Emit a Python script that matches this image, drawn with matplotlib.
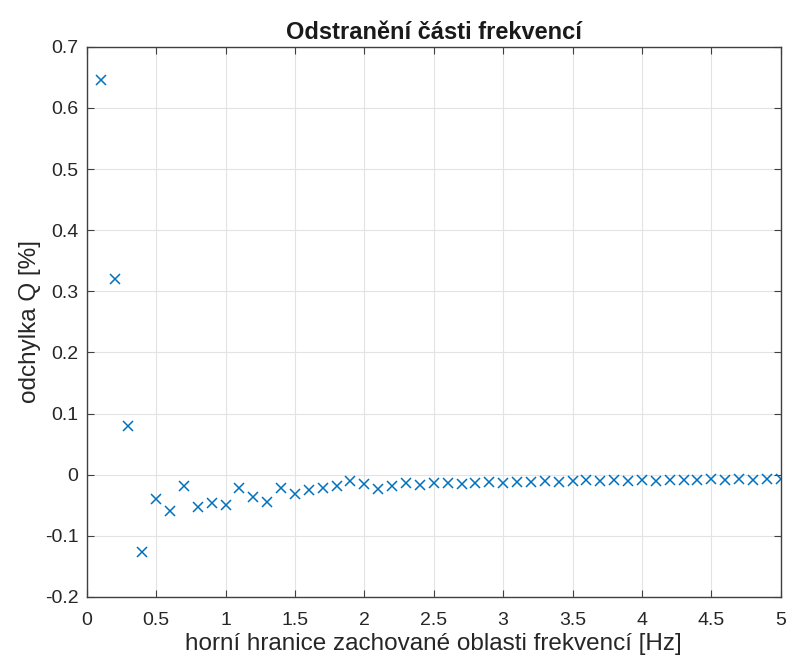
import matplotlib.pyplot as plt

plt.rcParams['font.family'] = ['Liberation Sans', 'DejaVu Sans']

# upper bound of the retained frequency band [Hz]
freq = [0.1, 0.2, 0.3, 0.4, 0.5, 0.6, 0.7, 0.8, 0.9, 1.0,
        1.1, 1.2, 1.3, 1.4, 1.5, 1.6, 1.7, 1.8, 1.9, 2.0,
        2.1, 2.2, 2.3, 2.4, 2.5, 2.6, 2.7, 2.8, 2.9, 3.0,
        3.1, 3.2, 3.3, 3.4, 3.5, 3.6, 3.7, 3.8, 3.9, 4.0,
        4.1, 4.2, 4.3, 4.4, 4.5, 4.6, 4.7, 4.8, 4.9, 5.0]
# deviation of Q [%]
dev = [0.645, 0.321, 0.080, -0.126, -0.039, -0.060, -0.018, -0.052, -0.046, -0.050,
       -0.022, -0.036, -0.044, -0.021, -0.031, -0.025, -0.021, -0.019, -0.010, -0.015,
       -0.023, -0.018, -0.014, -0.017, -0.014, -0.014, -0.015, -0.014, -0.012, -0.013,
       -0.012, -0.012, -0.011, -0.012, -0.011, -0.009, -0.010, -0.009, -0.010, -0.009,
       -0.010, -0.009, -0.008, -0.009, -0.007, -0.008, -0.007, -0.008, -0.007, -0.007]

xticks = [0, 0.5, 1, 1.5, 2, 2.5, 3, 3.5, 4, 4.5, 5]
xticklabels = ['0', '0.5', '1', '1.5', '2', '2.5', '3', '3.5', '4', '4.5', '5']
yticks = [-0.2, -0.1, 0, 0.1, 0.2, 0.3, 0.4, 0.5, 0.6, 0.7]
yticklabels = ['-0.2', '-0.1', '0', '0.1', '0.2', '0.3', '0.4', '0.5', '0.6', '0.7']

fig = plt.figure(figsize=(7.89, 6.6), dpi=100)
ax = fig.add_axes([0.110, 0.0955, 0.8795, 0.8335])

ax.plot(freq, dev, linestyle='none', marker='x', markersize=7.5,
        markeredgewidth=1.1, color='#0072BD')

ax.set_xlim(0, 5)
ax.set_ylim(-0.2, 0.7)
ax.set_xticks(xticks, xticklabels)
ax.set_yticks(yticks, yticklabels)
ax.grid(True, color='#e3e3e3', linewidth=0.8)
ax.set_axisbelow(True)

axis_col = '#404040'
for s in ax.spines.values():
    s.set_color(axis_col)
    s.set_linewidth(1.0)
ax.tick_params(direction='in', top=True, right=True, length=5,
               color=axis_col, labelcolor='#262626', labelsize=14)
ax.tick_params(axis='x', pad=11)
ax.tick_params(axis='y', pad=6)

ax.set_xlabel('horní hranice zachované oblasti frekvencí [Hz]', fontsize=17.5,
              color='#262626', labelpad=3)
ax.set_ylabel('odchylka Q [%]', fontsize=17.5, color='#262626', labelpad=3)
ax.set_title('Odstranění části frekvencí', fontsize=17, fontweight='bold',
             color='#1a1a1a', pad=6)

fig.savefig('out.png', dpi=100)
